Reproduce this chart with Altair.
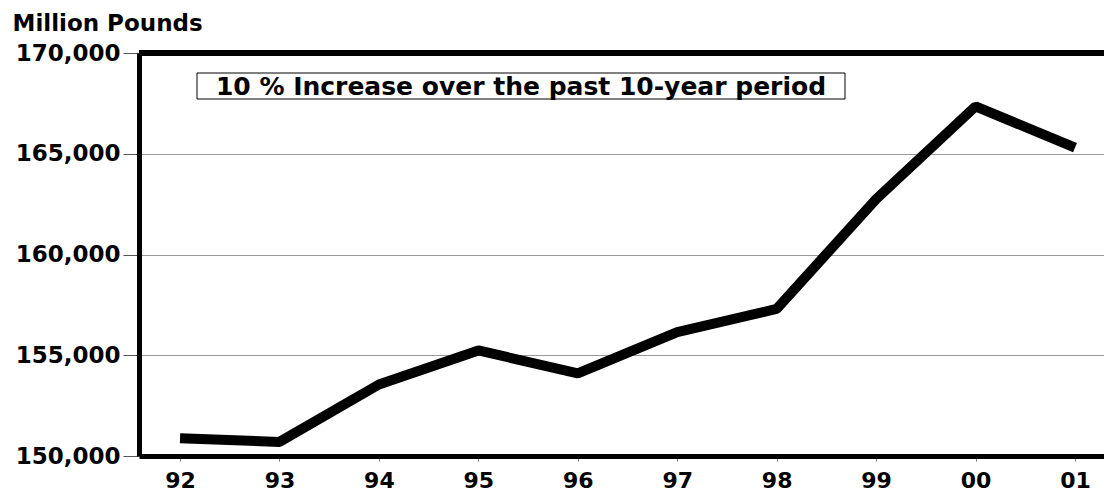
import altair as alt
import pandas as pd

years = ["92", "93", "94", "95", "96", "97", "98", "99", "00", "01"]
pounds = [150880, 150700, 153550, 155240, 154100, 156150, 157300, 162750, 167350, 165300]

y_ticks = [150000, 155000, 160000, 165000, 170000]
y_title = "Million Pounds"
note_text = "10 % Increase over the past 10-year period"

FONT = "DejaVu Sans"

df = pd.DataFrame({"year": years, "pounds": pounds})
note_df = pd.DataFrame({"label": [note_text]})

x_enc = alt.X(
    "year:O",
    sort=years,
    scale=alt.Scale(type="point", padding=0.352, align=0.586),
    axis=alt.Axis(
        title=None,
        labelAngle=0,
        labelFont=FONT,
        labelFontWeight="bold",
        labelFontSize=22,
        labelColor="black",
        labelPadding=9,
        tickColor="#777777",
        tickSize=5,
        tickWidth=1,
        domainColor="black",
        domainWidth=5,
        grid=False,
    ),
)

y_enc = alt.Y(
    "pounds:Q",
    scale=alt.Scale(domain=[150000, 170000], nice=False, zero=False),
    axis=alt.Axis(
        values=y_ticks,
        format=",d",
        title=y_title,
        titleAngle=0,
        titleAlign="left",
        titleBaseline="alphabetic",
        titleX=-127,
        titleY=-23,
        titleFont=FONT,
        titleFontWeight="bold",
        titleFontSize=23,
        titleColor="black",
        labelFont=FONT,
        labelFontWeight="bold",
        labelFontSize=23,
        labelColor="black",
        labelPadding=3,
        labelFlush=False,
        labelOverlap=False,
        tickColor="#555555",
        tickSize=16,
        tickWidth=1,
        domainColor="black",
        domainWidth=5,
        grid=True,
        gridColor="#999999",
        gridWidth=1,
    ),
)

line = alt.Chart(df).mark_line(
    color="black", strokeWidth=10, strokeCap="butt", strokeJoin="bevel"
).encode(x=x_enc, y=y_enc)

top_border = alt.Chart(df).mark_rule(color="black", strokeWidth=5).encode(
    y=alt.datum(170000)
)

box = alt.Chart(note_df).mark_rect(
    fill="white", stroke="black", strokeWidth=1
).encode(
    x=alt.value(58), x2=alt.value(706), y=alt.value(20), y2=alt.value(46)
)

note = alt.Chart(note_df).mark_text(
    font=FONT, fontWeight="bold", fontSize=25, color="black",
    align="center", baseline="middle"
).encode(x=alt.value(382), y=alt.value(34), text="label:N")

chart = alt.layer(line, top_border, box, note).properties(
    width=965,
    height=403,
    autosize=alt.AutoSizeParams(type="none"),
    padding={"left": 131, "top": 45, "right": 0, "bottom": 36},
).configure_view(stroke=None).configure(background="white")

chart.save("out.html", embed_options={"renderer": "svg", "actions": False})
